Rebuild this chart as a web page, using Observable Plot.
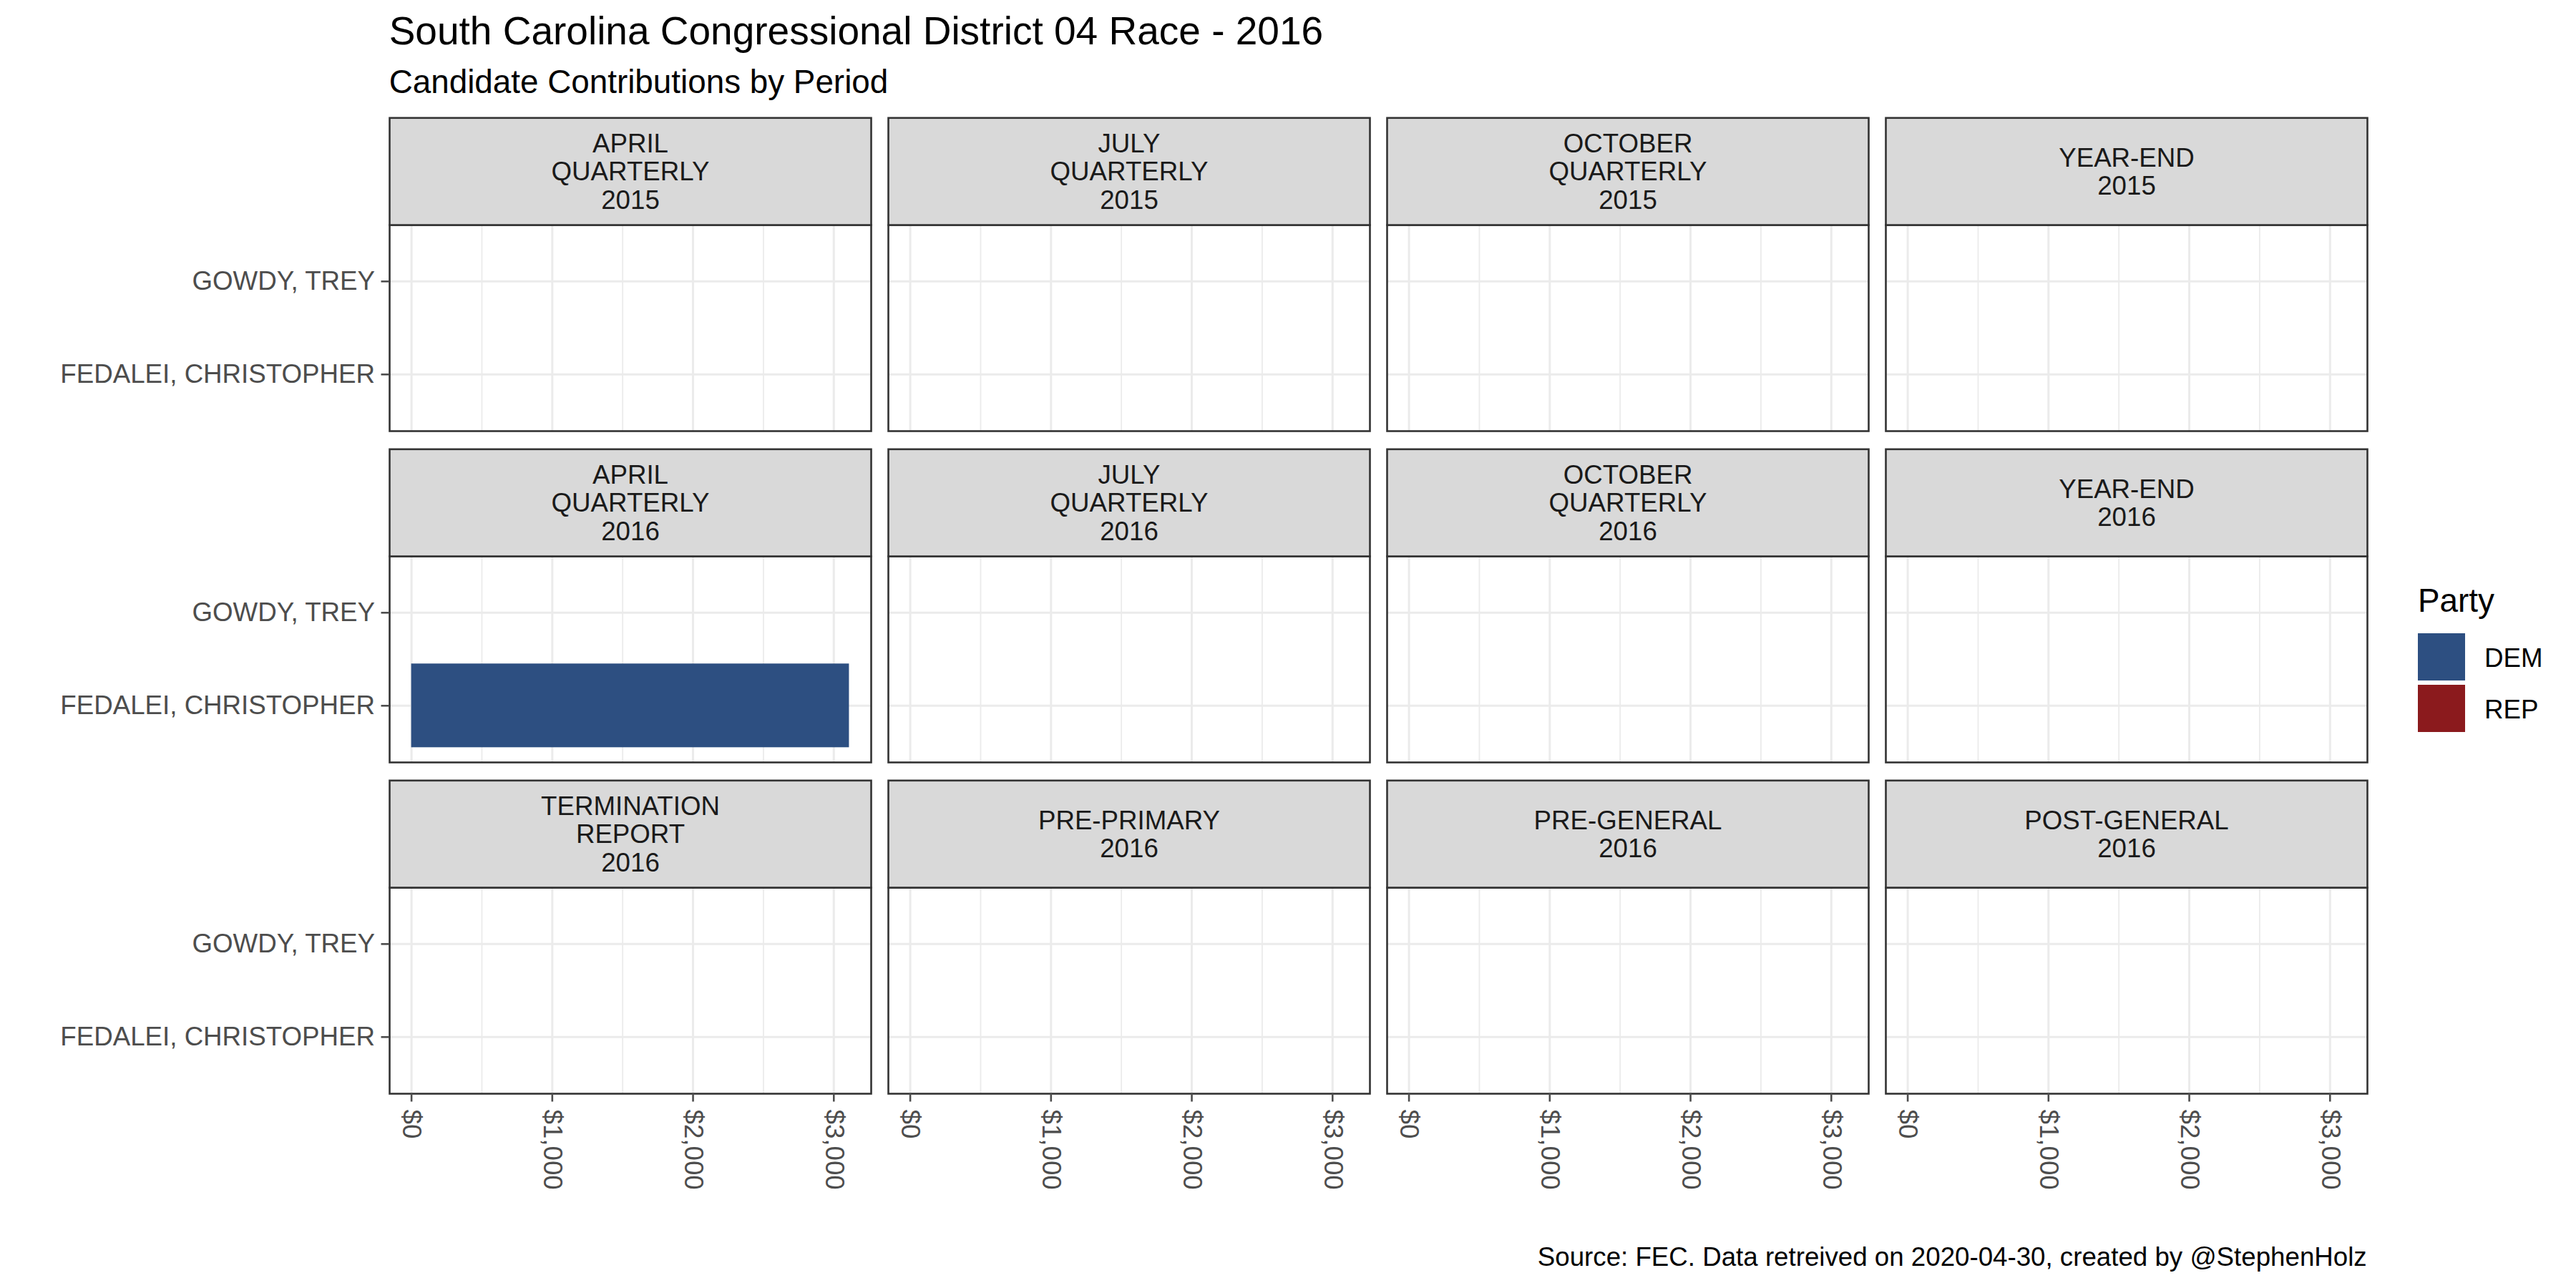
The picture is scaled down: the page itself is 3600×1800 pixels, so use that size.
<!DOCTYPE html>
<html><head><meta charset="utf-8">
<script src="https://cdn.jsdelivr.net/npm/d3@7"></script>
<script src="https://cdn.jsdelivr.net/npm/@observablehq/plot@0.6"></script>
<style>
html,body{margin:0;padding:0;background:#fff;}
#chart{position:relative;width:3600px;height:1800px;font-family:"Liberation Sans",Arial,sans-serif;overflow:hidden;}
#chart svg{position:absolute;left:0;top:0;}
.t{position:absolute;white-space:nowrap;line-height:1;margin:0;}
.sw{position:absolute;width:66px;height:66px;}
</style></head><body><div id="chart"></div>
<script>
// ---- data ----
const periods = [
  "APRIL\nQUARTERLY\n2015", "JULY\nQUARTERLY\n2015", "OCTOBER\nQUARTERLY\n2015", "YEAR-END\n2015",
  "APRIL\nQUARTERLY\n2016", "JULY\nQUARTERLY\n2016", "OCTOBER\nQUARTERLY\n2016", "YEAR-END\n2016",
  "TERMINATION\nREPORT\n2016", "PRE-PRIMARY\n2016", "PRE-GENERAL\n2016", "POST-GENERAL\n2016"
];
const candidates = ["GOWDY, TREY", "FEDALEI, CHRISTOPHER"];
const parties = ["DEM", "REP"];
const partyColors = ["#2D4F81", "#8B1A1D"];
const xTicks = [0, 1000, 2000, 3000];
const xMinorTicks = [500, 1500, 2500];
const contribPeriod = ["APRIL\nQUARTERLY\n2016"];
const contribCandidate = ["FEDALEI, CHRISTOPHER"];
const contribParty = ["DEM"];
const contribAmount = [3110];
const titleText = "South Carolina Congressional District 04 Race - 2016";
const subtitleText = "Candidate Contributions by Period";
const captionText = "Source: FEC. Data retreived on 2020-04-30, created by @StephenHolz";
const legendTitle = "Party";

// ---- build ----
const NCOL = 4;
const panels = periods.map((p, i) => ({period: p, col: i % NCOL, row: Math.floor(i / NCOL)}));
const pos = new Map(panels.map(d => [d.period, d]));
const bars = contribAmount.map((v, i) => ({
  period: contribPeriod[i], candidate: contribCandidate[i], party: contribParty[i], amount: v,
  col: pos.get(contribPeriod[i]).col, row: pos.get(contribPeriod[i]).row
}));
const maxV = d3.max(contribAmount);
const money = d => "$" + d3.format(",")(d);
const FONT = '"Liberation Sans", Arial, sans-serif';

const chart = Plot.plot({
  width: 3600, height: 1800,
  marginLeft: 543.7, marginRight: 292.3, marginTop: 313.7, marginBottom: 272.3,
  style: {fontFamily: FONT, background: "transparent", overflow: "visible"},
  fx: {axis: null, domain: [0, 1, 2, 3], paddingInner: 24.4 / 697, paddingOuter: 0},
  fy: {axis: null, domain: [0, 1, 2], paddingInner: 175 / 463, paddingOuter: 0},
  x: {domain: [-0.05 * maxV, 1.05 * maxV]},
  y: {type: "band", domain: candidates, paddingInner: 0.1, paddingOuter: 0.15},
  color: {domain: parties, range: partyColors},
  marks: [
    Plot.gridX(xMinorTicks, {stroke: "#EBEBEB", strokeOpacity: 1, strokeWidth: 1.8}),
    Plot.gridX(xTicks, {stroke: "#EBEBEB", strokeOpacity: 1, strokeWidth: 3}),
    Plot.gridY(candidates, {stroke: "#EBEBEB", strokeOpacity: 1, strokeWidth: 3}),
    Plot.barX(bars, {fx: "col", fy: "row", x: "amount", y: "candidate", fill: "party"}),
    Plot.frame({stroke: "#333333", strokeWidth: 2.6}),
    Plot.frame({fill: "#D9D9D9", stroke: "#333333", strokeWidth: 2.6, insetTop: -149.7, insetBottom: 288}),
    Plot.text(panels, {fx: "col", fy: "row", text: "period", frameAnchor: "top", lineAnchor: "middle", dy: -74.85,
      fontSize: 36.7, lineHeight: 1.082, fill: "#1A1A1A"}),
    Plot.axisY({tickSize: 11.5, tickPadding: 9, fontSize: 36.7, color: "#4D4D4D", strokeWidth: 2.6, label: null}),
    Plot.axisX(xTicks, {tickSize: 11.5, tickPadding: 10.5, tickRotate: 90, fontSize: 36.7, color: "#4D4D4D",
      strokeWidth: 2.6, label: null, tickFormat: money})
  ]
});

const root = document.getElementById("chart");
root.appendChild(chart);

function addText(txt, size, left, baseline, opts = {}) {
  const d = document.createElement("div");
  d.className = "t";
  d.textContent = txt;
  d.style.fontSize = size + "px";
  d.style.top = (baseline - 0.8465 * size) + "px";
  d.style.color = opts.color || "#000";
  if (opts.right != null) { d.style.right = (3600 - opts.right) + "px"; }
  else d.style.left = left + "px";
  root.appendChild(d);
}
addText(titleText, 55, 543.7, 63);
addText(subtitleText, 45.8, 543.7, 131);
addText(captionText, 36.7, null, 1770, {right: 3307.7});
addText(legendTitle, 45.8, 3379, 856);
const colorScale = chart.scale("color");
parties.forEach((p, i) => {
  const s = document.createElement("div");
  s.className = "sw";
  s.style.left = "3379px";
  s.style.top = (885 + i * 72) + "px";
  s.style.background = partyColors[colorScale.domain.indexOf(p)];
  root.appendChild(s);
  addText(p, 36.7, 3472, 933 + i * 72);
});
</script></body></html>
